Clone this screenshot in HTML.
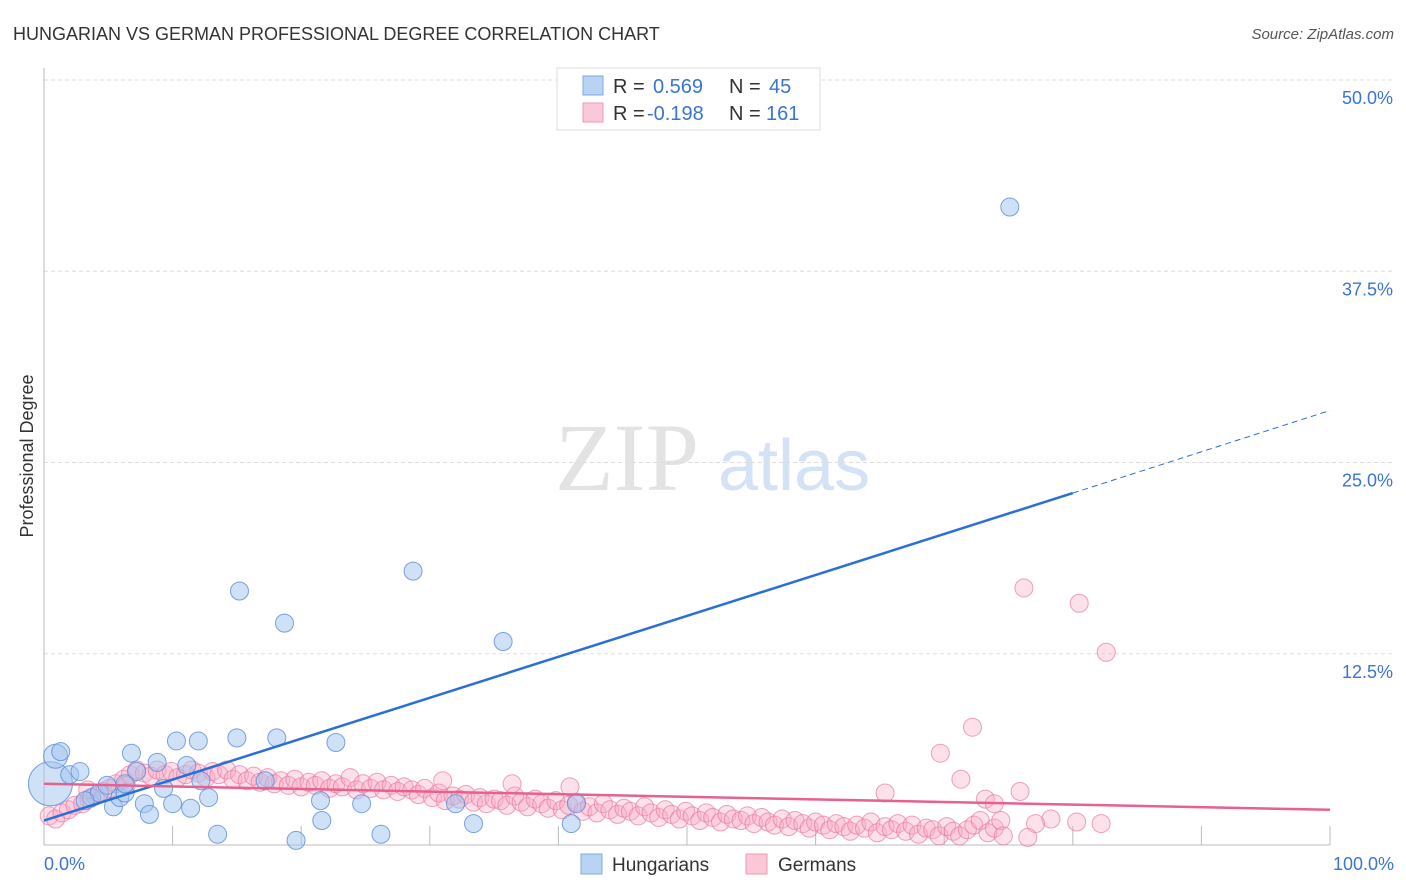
<!DOCTYPE html>
<html><head><meta charset="utf-8"><style>
body{margin:0;background:#fff;font-family:"Liberation Sans",sans-serif;}
svg{display:block}
</style></head><body>
<svg id="chart" width="1406" height="892">
<text x="13" y="40" font-size="18" fill="#333">HUNGARIAN VS GERMAN PROFESSIONAL DEGREE CORRELATION CHART</text>
<text x="1394" y="39" font-size="15" fill="#555" font-style="italic" text-anchor="end">Source: ZipAtlas.com</text>
<text x="555" y="490" font-size="96" fill="#e3e3e3" font-family="Liberation Serif,serif">ZIP</text>
<text x="718" y="490" font-size="72" fill="#d3e2f5">atlas</text>
<text transform="translate(33,456) rotate(-90)" font-size="18" fill="#333" text-anchor="middle">Professional Degree</text>
<g id="grid"></g><g id="pts"></g><g id="lines"></g>
<g>
<rect x="557" y="68" width="263" height="62" fill="#fff" stroke="#ddd"/>
<rect x="583" y="76" width="20" height="19" fill="#b9d3f5" stroke="#7fa9e3"/>
<rect x="583" y="103" width="20" height="19" fill="#fbc8d7" stroke="#ee9ab5"/>
<text x="613" y="93" font-size="20" fill="#333">R = </text><text x="653" y="93" font-size="20" fill="#3a74d4">0.569</text>
<text x="729" y="93" font-size="20" fill="#333">N = </text><text x="769" y="93" font-size="20" fill="#3a74d4">45</text>
<text x="613" y="120" font-size="20" fill="#333">R = </text><text x="647" y="120" font-size="20" fill="#3a74d4">-0.198</text>
<text x="729" y="120" font-size="20" fill="#333">N = </text><text x="766" y="120" font-size="20" fill="#3a74d4">161</text>
</g>
<g>
<rect x="581" y="854" width="21" height="20" fill="#b9d3f5" stroke="#7fa9e3"/>
<text x="612" y="871" font-size="19" fill="#333">Hungarians</text>
<rect x="746" y="854" width="21" height="20" fill="#fbc8d7" stroke="#ee9ab5"/>
<text x="778" y="871" font-size="19" fill="#333">Germans</text>
</g>
</svg>
<script>
const yTicks=[12.5,25,37.5,50];
const yTickLabels=["12.5%","25.0%","37.5%","50.0%"];
const xTickLabels=["0.0%","100.0%"];
const hunX=[0.5,0.9,1.3,2.0,2.8,3.7,4.3,4.9,5.4,5.9,6.3,6.8,7.2,7.8,8.2,8.8,9.3,10.0,10.3,11.1,11.4,12.0,12.2,12.8,13.5,15.0,15.2,17.2,18.1,18.7,19.6,21.5,21.6,22.7,24.7,26.2,28.7,32.0,33.4,35.7,41.0,41.4,75.1,3.2,6.3];
const hunY=[4.0,5.8,6.1,4.6,4.8,3.1,3.4,3.9,2.5,3.1,3.4,6.0,4.8,2.7,2.0,5.4,3.7,2.7,6.8,5.2,2.4,6.8,4.2,3.1,0.7,7.0,16.6,4.2,7.0,14.5,0.3,2.9,1.6,6.7,2.7,0.7,17.9,2.7,1.4,13.3,1.4,2.7,41.7,2.9,4.0];
const hunR=[22,12,9,9,9,9,9,9,9,9,9,9,9,9,9,9,9,9,9,9,9,9,9,9,9,9,9,9,9,9,9,9,9,9,9,9,9,9,9,9,9,9,9,9,9];
const gerX=[0.4,0.9,1.4,1.9,2.4,3.0,3.5,4.0,4.6,5.1,
5.6,6.2,6.7,7.2,7.8,8.3,8.8,9.4,9.9,10.4,
11.0,11.5,12.0,12.6,13.1,13.6,14.2,14.7,15.2,15.8,
16.3,16.8,17.4,17.9,18.4,19.0,19.5,20.0,20.6,21.1,
21.6,22.2,22.7,23.2,23.8,24.3,24.8,25.4,25.9,26.4,
27.0,27.5,28.0,28.6,29.1,29.6,30.2,30.7,31.2,31.8,
32.3,32.8,33.4,33.9,34.4,35.0,35.5,36.0,36.6,37.1,
37.6,38.2,38.7,39.2,39.8,40.3,40.8,41.4,41.9,42.4,
43.0,43.5,44.0,44.6,45.1,45.6,46.2,46.7,47.2,47.8,
48.3,48.8,49.4,49.9,50.4,51.0,51.5,52.0,52.6,53.1,
53.6,54.2,54.7,55.2,55.8,56.3,56.8,57.4,57.9,58.4,
59.0,59.5,60.0,60.6,61.1,61.6,62.2,62.7,63.2,63.8,
64.3,64.8,65.4,65.9,66.4,67.0,67.5,68.0,68.6,69.1,
69.6,70.2,70.7,71.2,71.8,72.3,72.8,73.4,73.9,74.4,
76.2,80.5,82.6,72.2,69.7,71.3,73.2,73.9,75.9,65.4,
36.4,40.9,31.0,6.4,3.4,78.3,77.1,80.3,82.2,74.6,76.5];
const gerY=[1.9,1.7,2.1,2.3,2.6,2.7,3.0,3.2,3.5,3.7,
4.0,4.3,4.6,4.9,4.7,4.5,4.9,4.6,4.8,4.4,
4.6,4.9,4.7,4.4,4.8,4.6,4.9,4.3,4.6,4.2,
4.5,4.1,4.4,4.0,4.2,3.9,4.3,3.8,4.1,3.9,
4.2,3.7,4.0,3.8,4.4,3.6,4.0,3.7,4.1,3.6,
3.9,3.5,3.8,3.6,3.3,3.7,3.1,3.4,2.9,3.2,
3.0,3.3,2.8,3.1,2.7,3.0,2.9,2.6,3.2,2.8,
2.5,3.0,2.7,2.4,2.9,2.3,2.6,2.8,2.2,2.5,
2.1,2.7,2.3,2.0,2.4,2.2,1.9,2.5,2.1,1.8,
2.3,2.0,1.7,2.2,1.9,1.6,2.1,1.8,1.5,2.0,
1.7,1.6,1.9,1.4,1.8,1.5,1.3,1.7,1.2,1.6,
1.4,1.1,1.5,1.3,1.0,1.4,1.2,0.9,1.3,1.1,
1.5,0.8,1.2,1.0,1.4,0.9,1.3,0.7,1.1,1.0,
0.6,1.2,0.9,0.6,1.0,1.3,1.6,0.8,1.1,1.6,
16.8,15.8,12.6,7.7,6.0,4.3,3.0,2.7,3.5,3.4,
4.0,3.8,4.2,3.9,3.6,1.7,1.4,1.5,1.4,0.6,0.5];
const blueLine=[[0,1.6],[80,23.0],[100,28.4]];
const pinkLine=[[0,4.0],[100,2.3]];
const X0=44,X1=1330,Y0=845,Y50=80;
const sx=v=>X0+(X1-X0)*v/100;
const sy=v=>Y0-(Y0-Y50)*v/50;
const NS="http://www.w3.org/2000/svg";
function mk(p,t,a){const e=document.createElementNS(NS,t);for(const k in a)e.setAttribute(k,a[k]);p.appendChild(e);return e;}
const grid=document.getElementById('grid');
yTicks.forEach((t,i)=>{
 const l=mk(grid,'line',{x1:X0,x2:1394,y1:sy(t),y2:sy(t),stroke:'#ddd','stroke-dasharray':'4,3'});
 
 
 const tx=mk(grid,'text',{x:1393,y:sy(t)+24,'font-size':18,fill:'#3a74d4','text-anchor':'end'});
 tx.textContent=yTickLabels[i];
 
 
});
const ax=mk(grid,'line',{x1:X0,x2:X0,y1:68,y2:Y0,stroke:'#bbb'});


const bx=mk(grid,'line',{x1:X0,x2:X1,y1:Y0,y2:Y0,stroke:'#bbb'});


for(let k=1;k<=10;k++){const t=mk(grid,'line',{x1:sx(k*10),x2:sx(k*10),y1:Y0-19,y2:Y0,stroke:'#bbb'});
 
 }
xTickLabels.forEach((s,i)=>{const t=mk(grid,'text',{x:i?1394:44,y:870,'font-size':18,fill:'#3a74d4','text-anchor':i?'end':'start'});t.textContent=s;
 
 });
const pts=document.getElementById('pts');
gerX.forEach((x,i)=>{if(gerY[i]===undefined)return;const c=mk(pts,'circle',{cx:sx(x),cy:sy(gerY[i]),r:9,fill:'rgba(248,170,195,0.35)',stroke:'rgba(232,120,160,0.7)','stroke-width':1});
 
 });
hunX.forEach((x,i)=>{const c=mk(pts,'circle',{cx:sx(x),cy:sy(hunY[i]),r:hunR[i],fill:'rgba(160,196,240,0.5)',stroke:'rgba(90,140,215,0.8)','stroke-width':1});
 
 });
const lines=document.getElementById('lines');
const b1=mk(lines,'line',{x1:sx(blueLine[0][0]),y1:sy(blueLine[0][1]),x2:sx(blueLine[1][0]),y2:sy(blueLine[1][1]),stroke:'#2a6fd6','stroke-width':2.5});


const b2=mk(lines,'line',{x1:sx(blueLine[1][0]),y1:sy(blueLine[1][1]),x2:sx(blueLine[2][0]),y2:sy(blueLine[2][1]),stroke:'#2a6fd6','stroke-width':1,'stroke-dasharray':'6,4'});


const p1=mk(lines,'line',{x1:sx(pinkLine[0][0]),y1:sy(pinkLine[0][1]),x2:sx(pinkLine[1][0]),y2:sy(pinkLine[1][1]),stroke:'#e8608e','stroke-width':2.5});


</script>
</body></html>
